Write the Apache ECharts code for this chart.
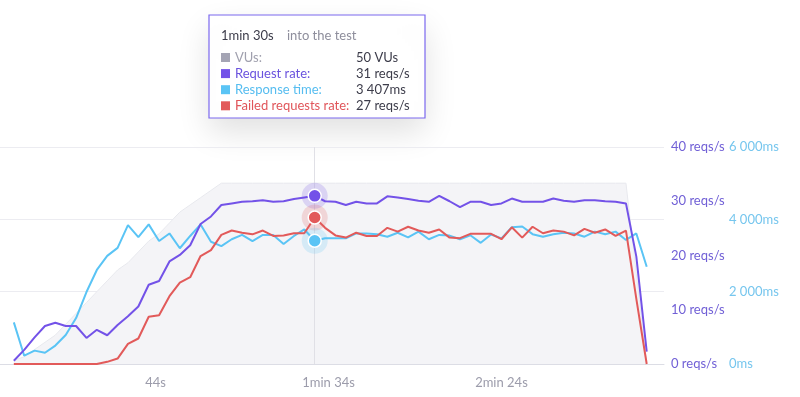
<!DOCTYPE html>
<html>
<head>
<meta charset="utf-8">
<script src="https://cdn.jsdelivr.net/npm/echarts@6/dist/echarts.min.js"></script>
<style>
  html, body { margin: 0; padding: 0; background: #fff; }
  #chart { width: 800px; height: 397px; }
</style>
</head>
<body>
<div id="chart"></div>
<script>
// seconds into the test, one sample every 3s
const times = [3, 6, 9, 12, 15, 18, 21, 24, 27, 30, 33, 36, 39, 42, 45, 48, 51, 54, 57, 60,
  63, 66, 69, 72, 75, 78, 81, 84, 87, 90, 93, 96, 99, 102, 105, 108, 111, 114, 117, 120,
  123, 126, 129, 132, 135, 138, 141, 144, 147, 150, 153, 156, 159, 162, 165, 168, 171, 174, 177, 180,
  183, 186];
const vus = [1, 2, 4, 6, 8, 11, 14, 17, 20, 23, 26, 28, 31, 34, 36, 39, 42, 44, 46, 48,
  50, 50, 50, 50, 50, 50, 50, 50, 50, 50, 50, 50, 50, 50, 50, 50, 50, 50, 50, 50,
  50, 50, 50, 50, 50, 50, 50, 50, 50, 50, 50, 50, 50, 50, 50, 50, 50, 50, 50, 50,
  25, 0];
const requestRate = [0.6, 2.6, 4.9, 7.0, 7.6, 7.0, 7.0, 4.8, 6.3, 5.3, 7.2, 8.8, 10.6, 14.6, 15.3, 18.9, 20.1, 21.9, 25.8, 27.2,
  29.3, 29.6, 29.9, 30.0, 30.2, 29.9, 30.0, 30.4, 30.7, 31.0, 30.0, 29.9, 29.3, 29.9, 29.6, 29.6, 30.9, 30.7, 30.4, 30.1,
  29.9, 31.0, 30.0, 28.9, 29.9, 29.9, 29.3, 29.6, 30.5, 29.9, 29.9, 29.9, 30.5, 30.1, 29.9, 30.2, 30.2, 30.0, 29.9, 29.6,
  19.8, 2.3];
const responseTime = [1150, 230, 370, 310, 510, 800, 1270, 1990, 2600, 2990, 3210, 3840, 3510, 3860, 3400, 3610, 3200, 3540, 3860, 3380,
  3260, 3450, 3570, 3400, 3570, 3570, 3320, 3540, 3720, 3407, 3475, 3475, 3475, 3610, 3610, 3590, 3520, 3630, 3500, 3660,
  3450, 3570, 3550, 3450, 3560, 3350, 3580, 3475, 3780, 3800, 3590, 3520, 3590, 3630, 3610, 3520, 3660, 3590, 3660, 3430,
  3610, 2690];
const failedRate = [0, 0, 0, 0, 0, 0, 0, 0, 0, 0.4, 1.0, 3.7, 4.7, 8.7, 9.0, 12.5, 15.0, 16.0, 19.9, 21.0,
  23.8, 24.6, 24.2, 23.9, 24.6, 23.6, 23.7, 24.1, 24.1, 27.0, 25.1, 23.7, 23.3, 24.2, 23.6, 23.6, 25.1, 24.4, 25.3, 24.6,
  24.2, 24.8, 23.3, 23.2, 24.0, 24.0, 24.0, 23.0, 25.2, 23.3, 25.3, 24.1, 24.6, 24.4, 23.7, 24.9, 24.2, 24.8, 23.6, 24.6,
  12.0, 0];
const xTicks = [44, 94, 144];
const hoverIdx = 29;

const FONT = 'Lato';
const C_VU = '#a4a4b4';
const C_REQ = '#7352e8';
const C_RESP = '#5ac4f5';
const C_FAIL = '#e25a5a';

function fmtTime(s) {
  const m = Math.floor(s / 60), r = s % 60;
  return m ? m + 'min ' + r + 's' : r + 's';
}
function fmtMs(v) {
  return String(Math.round(v)).replace(/\B(?=(\d{3})+(?!\d))/g, ' ') + 'ms';
}
const pair = (arr) => times.map((t, i) => [t, arr[i]]);

function hover(arr, color, yIndex) {
  return [{
    type: 'scatter', yAxisIndex: yIndex, silent: true, z: 10,
    symbolSize: 26,
    itemStyle: { color: color, opacity: 0.2 },
    data: [[times[hoverIdx], arr[hoverIdx]]]
  }, {
    type: 'scatter', yAxisIndex: yIndex, silent: true, z: 11,
    symbolSize: 13,
    itemStyle: { color: color, borderColor: '#fff', borderWidth: 1.5, opacity: 1 },
    data: [[times[hoverIdx], arr[hoverIdx]]]
  }];
}

const chart = echarts.init(document.getElementById('chart'));

const tipX = 209, tipY = 15;
const rows = [
  ['VUs:', vus[hoverIdx] + ' VUs', C_VU, '#a0a0ae'],
  ['Request rate:', Math.round(requestRate[hoverIdx]) + ' reqs/s', C_REQ, '#6a52de'],
  ['Response time:', fmtMs(responseTime[hoverIdx]), C_RESP, '#56bdf0'],
  ['Failed requests rate:', Math.round(failedRate[hoverIdx]) + ' reqs/s', C_FAIL, '#e0555a']
];
const tipChildren = [{
  type: 'rect', shape: { x: 0, y: 0, width: 216, height: 103 },
  style: { fill: '#fff', stroke: '#7b68ee', lineWidth: 1.2,
    shadowBlur: 30, shadowOffsetY: 14, shadowColor: 'rgba(0,0,0,0.12)' }
}, {
  type: 'text', x: 12, y: 21,
  style: { text: fmtTime(times[hoverIdx]), font: '13px ' + FONT, fill: '#3c3c4a', verticalAlign: 'middle' }
}, {
  type: 'text', x: 78, y: 21,
  style: { text: 'into the test', font: '13px ' + FONT, fill: '#8e8e9c', verticalAlign: 'middle' }
}];
rows.forEach((r, i) => {
  const cy = 42.5 + i * 16.1;
  tipChildren.push({ type: 'rect', shape: { x: 12, y: cy - 4.5, width: 9, height: 9 }, style: { fill: r[2] } });
  tipChildren.push({ type: 'text', x: 26, y: cy,
    style: { text: r[0], font: '13px ' + FONT, fill: r[3], verticalAlign: 'middle' } });
  tipChildren.push({ type: 'text', x: 147, y: cy,
    style: { text: r[1], font: '13px ' + FONT, fill: '#3c3c4a', verticalAlign: 'middle' } });
});

chart.setOption({
  animation: false,
  textStyle: { fontFamily: FONT },
  grid: { left: 0, right: 136, top: 147, bottom: 33 },
  xAxis: {
    type: 'value', min: -1, max: 191,
    axisLine: { show: true, lineStyle: { color: '#dcdde5' } },
    axisTick: { show: false },
    splitLine: { show: false },
    axisLabel: {
      customValues: xTicks, margin: 12, color: '#9c9cab', fontSize: 13, fontFamily: FONT,
      formatter: (v) => fmtTime(v)
    }
  },
  yAxis: [{
    type: 'value', position: 'right', min: 0, max: 40, interval: 10,
    axisLine: { show: false }, axisTick: { show: false }, splitLine: { show: false },
    axisLabel: { margin: 7, color: '#7160d6', fontSize: 13, fontFamily: FONT, formatter: '{value} reqs/s' }
  }, {
    type: 'value', position: 'right', offset: 57, min: 0, max: 6000, interval: 2000,
    axisLine: { show: false }, axisTick: { show: false },
    splitLine: { show: true, lineStyle: { color: '#ececf1' } },
    axisLabel: { margin: 8, color: '#76c6ee', fontSize: 13, fontFamily: FONT, formatter: fmtMs }
  }, {
    type: 'value', min: 0, max: 60, show: false
  }],
  series: [{
    name: 'VUs', type: 'line', yAxisIndex: 2, data: pair(vus),
    showSymbol: false, silent: true, z: 1,
    lineStyle: { color: '#e8e9ee', width: 1 },
    areaStyle: { color: '#f4f4f7', opacity: 1 },
    markLine: {
      silent: true, symbol: 'none', label: { show: false },
      lineStyle: { color: '#e0e0e6', width: 1, type: 'solid' },
      data: [{ xAxis: times[hoverIdx] }]
    }
  }, {
    name: 'Response time', type: 'line', yAxisIndex: 1, data: pair(responseTime),
    showSymbol: false, z: 3, lineStyle: { color: C_RESP, width: 2 }
  }, {
    name: 'Request rate', type: 'line', yAxisIndex: 0, data: pair(requestRate),
    showSymbol: false, z: 4, lineStyle: { color: C_REQ, width: 2 }
  }, {
    name: 'Failed requests rate', type: 'line', yAxisIndex: 0, data: pair(failedRate),
    showSymbol: false, z: 5, lineStyle: { color: C_FAIL, width: 2 }
  },
  ...hover(requestRate, C_REQ, 0),
  ...hover(failedRate, C_FAIL, 0),
  ...hover(responseTime, C_RESP, 1)
  ],
  graphic: [{ type: 'group', x: tipX, y: tipY, z: 100, children: tipChildren }]
});
</script>
</body>
</html>
